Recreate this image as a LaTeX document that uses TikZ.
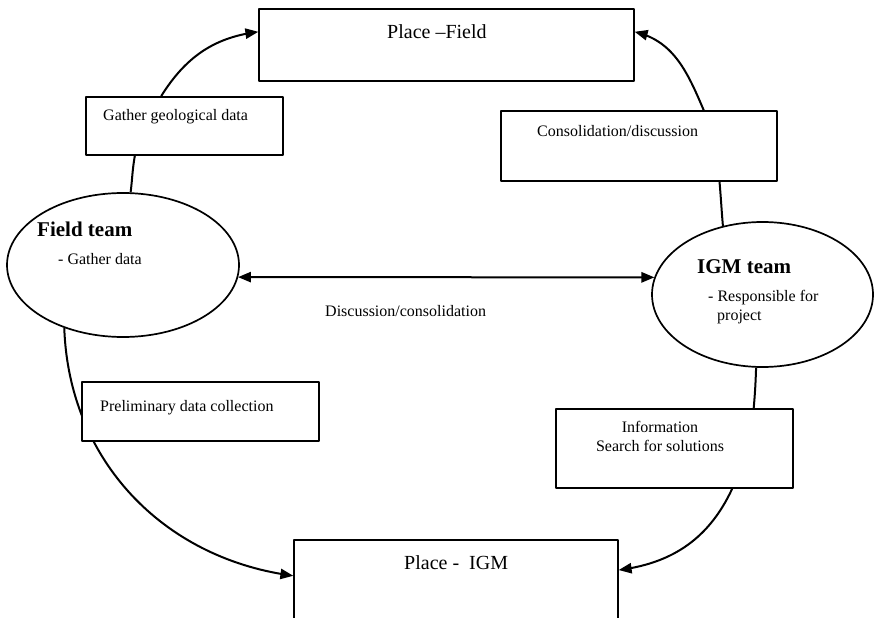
\documentclass[tikz,border=0pt]{standalone}
\usepackage{fontspec}
\setmainfont{Liberation Serif}
\usetikzlibrary{arrows}
\usetikzlibrary{shapes.geometric}
\usetikzlibrary{backgrounds}

\begin{document}
\begin{tikzpicture}[line cap=round,line join=round,>=triangle 45,x=1pt,y=-1pt,
  box/.style={draw,fill=white,line width=1.7pt,inner sep=0pt},
  oval/.style={draw,ellipse,line width=1.7pt,inner sep=0pt},
  txt/.style={anchor=west,inner sep=0pt,align=left,font=\fontsize{16}{19}\selectfont},
  big/.style={txt,font=\fontsize{20}{24}\selectfont},
  bigb/.style={txt,font=\fontsize{21}{25}\selectfont\bfseries},
  link/.style={line width=2pt}]
\useasboundingbox (0,0) rectangle (875,618);
\clip (0,0) rectangle (875,618);
\node[box,minimum width=375pt,minimum height=72pt] (placefield) at (446.5,45) {};
\node[box,minimum width=197pt,minimum height=58pt] (gather) at (184.5,126) {};
\node[box,minimum width=276pt,minimum height=70pt] (consol) at (639,146) {};
\node[box,minimum width=237pt,minimum height=59pt] (prelim) at (200.5,411.5) {};
\node[box,minimum width=237pt,minimum height=79pt] (info) at (674.5,448.5) {};
\node[box,minimum width=324pt,minimum height=100pt] (placeigm) at (456,590) {};
\node[oval,minimum width=232pt,minimum height=144pt] (field) at (123,265) {};
\node[oval,minimum width=221pt,minimum height=145pt] (igm) at (762.5,294.5) {};
\node[big] (placefieldtxt) at (387,32) {Place --Field};
\node[txt] (gathertxt) at (103,117) {Gather geological data};
\node[txt] (consoltxt) at (537,131) {Consolidation/discussion};
\node[bigb] (fieldtitle) at (37,229) {Field team};
\node[txt] (fieldtxt) at (58,259) {- Gather data};
\node[txt] (discusstxt) at (325,311) {Discussion/consolidation};
\node[bigb] (igmtitle) at (697,267) {IGM team};
\node[txt] (igmtxt) at (708,307.5) {- Responsible for\\\hspace*{9pt}project};
\node[txt] (prelimtxt) at (100,408) {Preliminary data collection};
\node[txt,anchor=center,align=center] (infotxt) at (660,436.5) {Information\\Search for solutions};
\node[big] (placeigmtxt) at (404,563) {Place -~ IGM};
\begin{scope}[on background layer]
\draw[link,->] (gather.128) to[out=58,in=188] (placefield.176);
\draw[link] (field.84) to[out=83,in=-100] (gather.211);
\draw[link,->] (consol.29) to[out=113,in=-15] (placefield.4);
\draw[link] (consol.-24) to[out=-85,in=95] (igm.120);
\draw[link,<->] (field.-6) -- (igm.171);
\draw[link,->] (field.227) to[out=-88,in=172] (placeigm.175);
\draw[link] (igm.265) to[out=-92,in=85] (info.27);
\draw[link,->] (info.-35) to[out=-115,in=8] (placeigm.7);
\end{scope}
\end{tikzpicture}
\end{document}
